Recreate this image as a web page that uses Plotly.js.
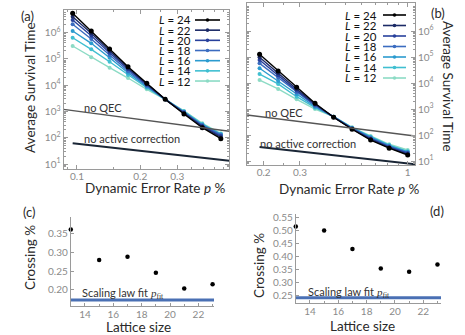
<!DOCTYPE html>
<html>
<head>
<meta charset="utf-8">
<script src="https://cdn.plot.ly/plotly-3.0.1.min.js"></script>
<style>
  html, body { margin: 0; padding: 0; background: #fff; }
  #fig { width: 465px; height: 335px; }
</style>
</head>
<body>
<div id="fig"></div>
<script>
// survival time vs dynamic error rate, two noise models + crossing points
const latticeSizes = [24, 22, 20, 18, 16, 14, 12];
const lineColors = ["#000000", "#1b2a66", "#28419c", "#3b6cc0", "#2b9bcf", "#40bfd1", "#8cdbc5"];

// panel (a)
const pA = [0.0954, 0.117, 0.143, 0.175, 0.215, 0.263, 0.323, 0.395, 0.484];
const aL24 = [5.37e6, 1.14e6, 2.36e5, 5.0e4, 1.17e4, 2.88e3, 796, 240, 92];
const aL22 = [3.99e6, 9.3e5, 2.03e5, 4.47e4, 1.10e4, 2.88e3, 847, 262, 104];
const aL20 = [2.99e6, 7.55e5, 1.71e5, 3.99e4, 1.04e4, 2.88e3, 893, 279, 116];
const aL18 = [2.05e6, 5.66e5, 1.39e5, 3.44e4, 9.5e3, 2.88e3, 948, 296, 127];
const aL16 = [1.14e6, 3.88e5, 1.10e5, 2.96e4, 8.7e3, 2.88e3, 975, 312, 135];
const aL14 = [6.34e5, 2.30e5, 7.76e4, 2.42e4, 7.96e3, 2.88e3, 1010, 332, 138];
const aL12 = [3.07e5, 1.14e5, 4.59e4, 1.86e4, 6.92e3, 2.88e3, 1040, 353, 147];
const noQecA_p = [0.0863, 0.531], noQecA_t = [1200, 175];
const noActA_p = [0.0954, 0.531], noActA_t = [61, 13.3];

// panel (b)
const pB = [0.191, 0.235, 0.289, 0.355, 0.437, 0.537, 0.661, 0.813, 1.0];
const bL24 = [1.27e5, 2.9e4, 6.8e3, 1.66e3, 480, 166, 64, 31, 17];
const bL22 = [9.7e4, 2.36e4, 5.9e3, 1.56e3, 480, 170, 68, 32.5, 18.1];
const bL20 = [7.7e4, 1.98e4, 5.1e3, 1.46e3, 490, 175, 72, 34.5, 19.8];
const bL18 = [5.7e4, 1.6e4, 4.4e3, 1.34e3, 490, 181, 77, 36.7, 20.8];
const bL16 = [3.7e4, 1.2e4, 3.7e3, 1.22e3, 505, 186, 82, 38.7, 22.2];
const bL14 = [2.2e4, 9.2e3, 2.97e3, 1.12e3, 505, 191, 86, 41, 23.6];
const bL12 = [1.3e4, 5.9e3, 2.36e3, 1.0e3, 505, 198, 92, 44, 26.5];
const noQecB_p = [0.166, 1.085], noQecB_t = [590, 92];
const noActB_p = [0.191, 1.085], noActB_t = [34.5, 7.5];

// panels (c), (d)
const lattice = [13, 15, 17, 19, 21, 23];
const crossC = [0.362, 0.280, 0.289, 0.246, 0.204, 0.215];
const crossD = [0.516, 0.501, 0.430, 0.355, 0.343, 0.371];
const fitSpanC = [13, 23.1], fitC = 0.173;
const fitSpanD = [13, 23.25], fitD = 0.2435;

const logTicks = [10, 100, 1e3, 1e4, 1e5, 1e6];
const logTickText = ["10<sup>1</sup>", "10<sup>2</sup>", "10<sup>3</sup>", "10<sup>4</sup>", "10<sup>5</sup>", "10<sup>6</sup>"];
const minorLog = [];
for (let k = 0; k <= 7; k++) for (let m = 2; m <= 9; m++) minorLog.push(m * Math.pow(10, k));

const W = 465, H = 335;
const px = x => x / W;
const py = y => 1 - y / H;
const FONT = "Lato, 'Open Sans', sans-serif";
const tickGrey = "#8a8a8a", frameGrey = "#9a9a9a", ink = "#2a2a2a";

const seriesA = [aL24, aL22, aL20, aL18, aL16, aL14, aL12];
const seriesB = [bL24, bL22, bL20, bL18, bL16, bL14, bL12];

const traces = [];
function addCurves(xs, series, xa, ya) {
  for (let i = series.length - 1; i >= 0; i--) {
    traces.push({
      x: xs, y: series[i], xaxis: xa, yaxis: ya, type: "scatter", mode: "lines+markers",
      line: { color: lineColors[i], width: 1.4 },
      marker: { color: lineColors[i], size: i === 0 ? 5 : 4 },
      cliponaxis: false, hoverinfo: "skip"
    });
  }
}
addCurves(pA, seriesA, "x", "y");
addCurves(pB, seriesB, "x2", "y2");
traces.push(
  { x: noQecA_p, y: noQecA_t, xaxis: "x", yaxis: "y", mode: "lines", line: { color: "#555", width: 1.4 } },
  { x: noActA_p, y: noActA_t, xaxis: "x", yaxis: "y", mode: "lines", line: { color: "#1a2636", width: 2 } },
  { x: noQecB_p, y: noQecB_t, xaxis: "x2", yaxis: "y2", mode: "lines", line: { color: "#555", width: 1.4 } },
  { x: noActB_p, y: noActB_t, xaxis: "x2", yaxis: "y2", mode: "lines", line: { color: "#1a2636", width: 2 } },
  { x: fitSpanC, y: [fitC, fitC], xaxis: "x3", yaxis: "y3", mode: "lines", line: { color: "#4a70b4", width: 3 } },
  { x: lattice, y: crossC, xaxis: "x3", yaxis: "y3", mode: "markers", marker: { color: "#000", size: 4.5 }, cliponaxis: false },
  { x: fitSpanD, y: [fitD, fitD], xaxis: "x4", yaxis: "y4", mode: "lines", line: { color: "#4a70b4", width: 3 } },
  { x: lattice, y: crossD, xaxis: "x4", yaxis: "y4", mode: "markers", marker: { color: "#000", size: 4.5 }, cliponaxis: false }
);

const tickFont = { family: FONT, size: 10, color: tickGrey };
function frameAxis(extra) {
  return {
    type: "log", showgrid: false, zeroline: false, showline: true, linecolor: frameGrey, linewidth: 1,
    mirror: "allticks", ticks: "inside", ticklen: 4, tickcolor: frameGrey, tickfont: tickFont,
    ...extra
  };
}
function plainAxis(extra) {
  return {
    showgrid: false, zeroline: false, showline: true, linecolor: frameGrey, linewidth: 1,
    ticks: "inside", ticklen: 3, tickcolor: frameGrey, tickfont: tickFont, ...extra
  };
}

const shapes = [];
const annotations = [];
function note(text, x, y, opts = {}) {
  annotations.push({ xref: "paper", yref: "paper", x: px(x), y: py(y), text, showarrow: false,
    xanchor: "center", yanchor: "middle", font: { family: FONT, size: 12, color: ink }, ...opts });
}
function legendBlock(textRight, lineX0, lineX1, rowY0, rowStep) {
  latticeSizes.forEach((L, i) => {
    const y = rowY0 + rowStep * i;
    note(`<i>L</i> = ${L}`, textRight, y, { xanchor: "right", font: { family: FONT, size: 11.5, color: "#111" } });
    shapes.push({ type: "line", xref: "paper", yref: "paper", x0: px(lineX0), x1: px(lineX1), y0: py(y), y1: py(y),
      line: { color: lineColors[i], width: 1.6 } });
    const cx = (lineX0 + lineX1) / 2;
    shapes.push({ type: "circle", xref: "paper", yref: "paper", x0: px(cx - 1.8), x1: px(cx + 1.8), y0: py(y + 1.8), y1: py(y - 1.8),
      fillcolor: lineColors[i], line: { width: 0 } });
  });
}
legendBlock(193, 195, 220, 20, 10.17);
legendBlock(379, 383, 406, 15, 10.5);

note("(a)", 27, 16, { font: { family: FONT, size: 13, color: ink } });
note("(b)", 438, 13, { font: { family: FONT, size: 13, color: ink } });
note("(c)", 29, 212, { font: { family: FONT, size: 13, color: ink } });
note("(d)", 437, 211, { font: { family: FONT, size: 13, color: ink } });

note("Average Survival Time", 30, 88, { textangle: -90, font: { family: FONT, size: 13.5, color: ink } });
note("Average Survival Time", 448, 86, { textangle: 90, font: { family: FONT, size: 13.5, color: ink } });
note("Dynamic Error Rate <i>p</i> %", 155, 188, { font: { family: FONT, size: 13.5, color: ink } });
note("Dynamic Error Rate <i>p</i> %", 349, 189, { font: { family: FONT, size: 13.5, color: ink } });
note("Crossing %", 30, 258, { textangle: -90, font: { family: FONT, size: 13.5, color: ink } });
note("Crossing %", 259, 266, { textangle: -90, font: { family: FONT, size: 13.5, color: ink } });
note("Lattice size", 138, 327, { font: { family: FONT, size: 13.5, color: ink } });
note("Lattice size", 362, 326, { font: { family: FONT, size: 13.5, color: ink } });

note("no QEC", 82, 107, { xanchor: "left", font: { family: FONT, size: 11, color: "#333" } });
note("no active correction", 82, 138, { xanchor: "left", font: { family: FONT, size: 11, color: "#333" } });
note("no QEC", 263, 112, { xanchor: "left", font: { family: FONT, size: 11, color: "#333" } });
note("no active correction", 258, 143, { xanchor: "left", font: { family: FONT, size: 11, color: "#333" } });

const fitLabel = "Scaling law fit <span style=\"font-family:'Liberation Serif',serif\"><i>p</i><sub>fit</sub></span>";
note(fitLabel, 80, 293, { xanchor: "left", font: { family: FONT, size: 11, color: "#333" } });
note(fitLabel, 306, 292, { xanchor: "left", font: { family: FONT, size: 11, color: "#333" } });

const layout = {
  width: W, height: H, margin: { l: 0, r: 0, t: 0, b: 0 },
  paper_bgcolor: "#fff", plot_bgcolor: "rgba(0,0,0,0)", showlegend: false,
  font: { family: FONT, color: ink },
  xaxis: frameAxis({ domain: [px(63.5), px(229.3)], anchor: "y", range: [Math.log10(0.0863), Math.log10(0.531)],
    tickvals: [0.1, 0.2, 0.3], ticktext: ["0.1", "0.2", "0.3"], ticklabelstandoff: -2,
    minor: { tickvals: [0.09, 0.15, 0.25, 0.35, 0.4, 0.45, 0.5], ticks: "inside", ticklen: 2, tickcolor: frameGrey } }),
  yaxis: frameAxis({ domain: [py(169), py(10)], anchor: "x", range: [0.81, 6.856],
    tickvals: logTicks, ticktext: logTickText,
    minor: { tickvals: minorLog, ticks: "inside", ticklen: 2, tickcolor: frameGrey } }),
  xaxis2: frameAxis({ domain: [px(247), px(415)], anchor: "y2", range: [-0.78, 0.0355],
    tickvals: [0.2, 0.3, 1], ticktext: ["0.2", "0.3", "1"], ticklabelstandoff: -2,
    minor: { tickvals: [0.25, 0.4, 0.5, 0.6, 0.7, 0.8, 0.9], ticks: "inside", ticklen: 2, tickcolor: frameGrey } }),
  yaxis2: frameAxis({ domain: [py(165), py(3)], anchor: "x2", side: "right", range: [0.846, 7.077],
    tickvals: logTicks, ticktext: logTickText,
    minor: { tickvals: minorLog, ticks: "inside", ticklen: 2, tickcolor: frameGrey } }),
  xaxis3: plainAxis({ domain: [px(70.8), px(214)], anchor: "y3", range: [13, 23.1], ticklabelstandoff: -1,
    tickvals: [14, 16, 18, 20, 22], minor: { dtick: 1, ticks: "inside", ticklen: 2, tickcolor: frameGrey } }),
  yaxis3: plainAxis({ domain: [py(306), py(216.7)], anchor: "x3", range: [0.157, 0.396],
    tickvals: [0.20, 0.25, 0.30, 0.35], tickformat: ".2f" }),
  xaxis4: plainAxis({ domain: [px(295.8), px(441)], anchor: "y4", range: [13, 23.25], ticklabelstandoff: -1,
    tickvals: [14, 16, 18, 20, 22], minor: { dtick: 1, ticks: "inside", ticklen: 2, tickcolor: frameGrey } }),
  yaxis4: plainAxis({ domain: [py(303.3), py(214)], anchor: "x4", range: [0.222, 0.564],
    tickvals: [0.25, 0.30, 0.35, 0.40, 0.45, 0.50, 0.55], tickformat: ".2f" }),
  shapes, annotations
};

Plotly.newPlot("fig", traces, layout, { displayModeBar: false, staticPlot: true });
</script>
</body>
</html>
